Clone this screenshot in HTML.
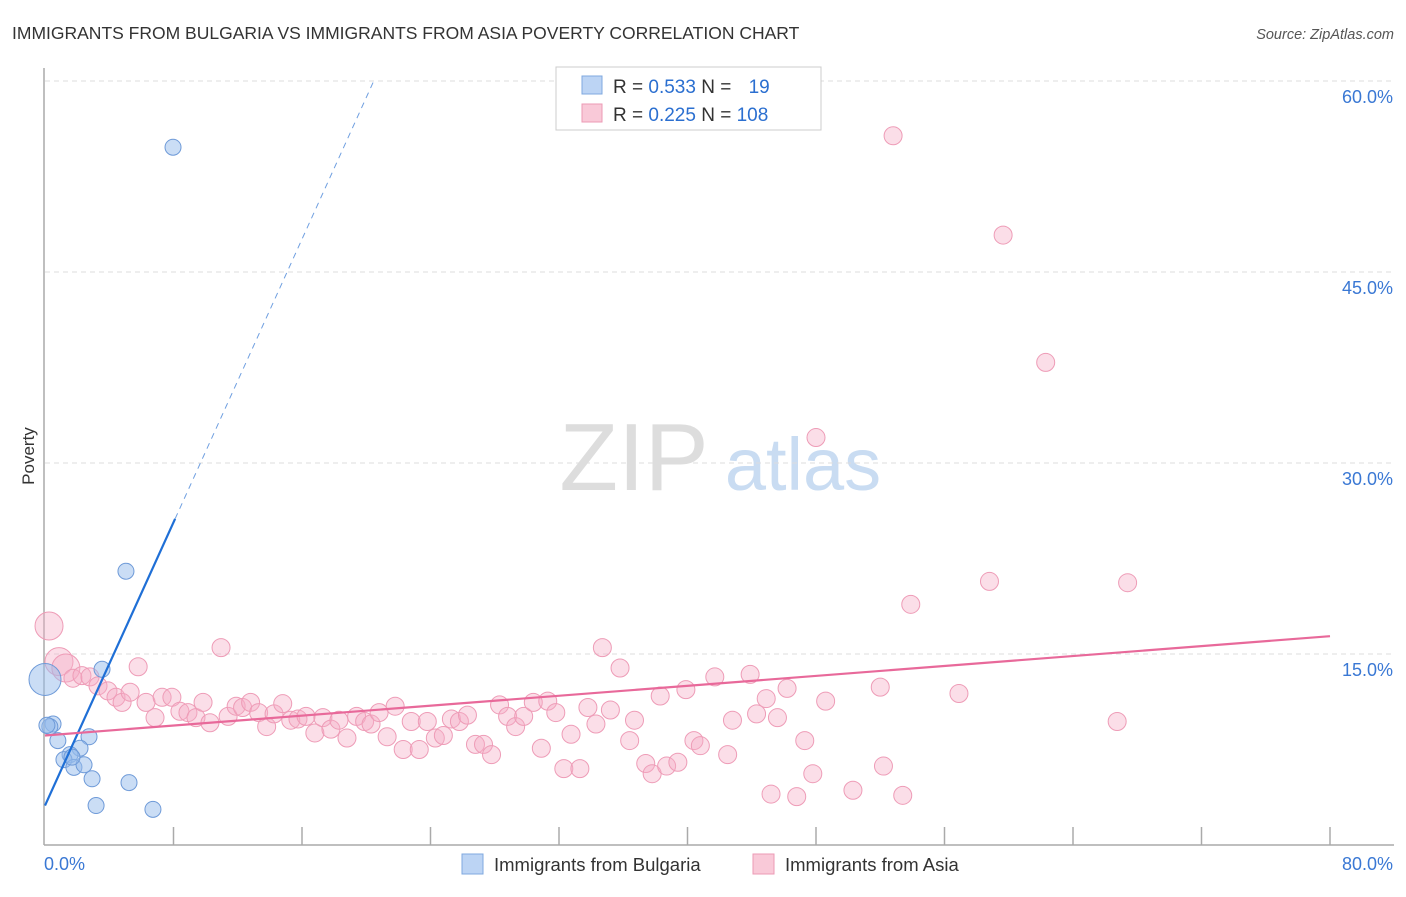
<!DOCTYPE html>
<html><head><meta charset="utf-8"><style>
body{margin:0;background:#fff;font-family:"Liberation Sans",sans-serif;}
svg text{font-family:"Liberation Sans",sans-serif;}
</style></head><body>
<svg id="c" width="1406" height="892">
<text x="12" y="39" font-size="17.5" fill="#333">IMMIGRANTS FROM BULGARIA VS IMMIGRANTS FROM ASIA POVERTY CORRELATION CHART</text>
<text x="1394" y="39" font-size="14.5" fill="#555" font-style="italic" text-anchor="end">Source: ZipAtlas.com</text>
<text x="34" y="456" font-size="17" fill="#333" transform="rotate(-90 34 456)" text-anchor="middle">Poverty</text>
<g>
<text x="634" y="490" font-size="96" fill="#ddd" font-family="Liberation Serif" text-anchor="middle">ZIP</text>
<text x="803" y="490" font-size="74" fill="#c9dcf2" text-anchor="middle">atlas</text></g>
<g id="grid"></g><g id="axes"></g><g id="pts"></g><g id="lines"></g>
<g>
<rect x="556" y="67" width="265" height="63" fill="#fff" stroke="#ccc"/>
<rect x="582" y="76" width="20" height="18" fill="#bcd4f4" stroke="#7fa8df"/>
<rect x="582" y="104" width="20" height="18" fill="#f9c9d8" stroke="#ec9ab5"/>
<text x="613" y="93" font-size="19" fill="#333">R = <tspan fill="#2b6fd0">0.533</tspan>   N = <tspan fill="#2b6fd0" dx="12">19</tspan></text>
<text x="613" y="121" font-size="19" fill="#333">R = <tspan fill="#2b6fd0">0.225</tspan>   N = <tspan fill="#2b6fd0">108</tspan></text>
</g>
<g>
<rect x="462" y="854" width="21" height="20" fill="#bcd4f4" stroke="#7fa8df"/>
<text x="494" y="871" font-size="18.5" fill="#333">Immigrants from Bulgaria</text>
<rect x="753" y="854" width="21" height="20" fill="#f9c9d8" stroke="#ec9ab5"/>
<text x="785" y="871" font-size="18.5" fill="#333">Immigrants from Asia</text>
</g>
</svg>
<script>
const yTicks=[15,30,45,60];
const yTickLabels=["15.0%","30.0%","45.0%","60.0%"];
const xTicks=[0,8,16,24,32,40,48,56,64,72,80];
const xEndLabels=["0.0%","80.0%"];
const bulgariaX=[7.97,5.04,3.55,0.0,0.5,0.3,0.8,2.74,2.18,1.56,1.18,1.8,2.43,2.93,5.23,3.18,6.72,0.12,1.68];
const bulgariaY=[54.8,21.5,13.8,13.0,9.5,9.3,8.2,8.5,7.6,7.1,6.7,6.1,6.3,5.2,4.9,3.1,2.8,9.4,6.9];
const bulgariaBig=[0,0,0,1,0,0,0,0,0,0,0,0,0,0,0,0,0,0,0];
const asiaX=[52.8,59.65,62.3,48.0,58.8,67.4,53.9,0.25,0.87,1.3,1.74,2.3,2.8,3.3,3.92,4.42,4.8,5.3,5.8,6.29,6.85,7.29,7.9,8.4,8.9,9.4,9.84,10.27,10.96,11.4,11.9,12.3,12.8,13.3,13.8,14.26,14.8,15.3,15.75,16.25,16.8,17.3,17.8,18.3,18.8,19.4,19.9,20.3,20.8,21.3,21.8,22.3,22.8,23.3,23.8,24.3,24.8,25.3,25.8,26.3,26.8,27.3,27.8,28.3,28.8,29.3,29.8,30.4,30.9,31.3,31.8,32.3,32.75,33.3,33.8,34.3,34.7,35.2,35.8,36.4,36.7,37.4,37.8,38.3,38.7,39.4,39.9,40.4,40.8,41.7,42.5,42.8,43.9,44.3,44.9,45.2,45.6,46.2,46.8,47.3,47.8,48.6,50.3,52.0,52.2,53.4,56.9,66.75];
const asiaY=[55.7,47.9,37.9,32.0,20.7,20.6,18.9,17.2,14.4,13.9,13.1,13.3,13.2,12.5,12.1,11.6,11.2,12.0,14.0,11.2,10.0,11.6,11.6,10.5,10.4,10.0,11.2,9.6,15.5,10.1,10.9,10.8,11.2,10.4,9.3,10.3,11.1,9.8,9.9,10.1,8.8,10.0,9.1,9.8,8.4,10.1,9.7,9.5,10.4,8.5,10.9,7.5,9.7,7.5,9.7,8.4,8.6,9.9,9.7,10.2,7.9,7.9,7.1,11.0,10.1,9.3,10.1,11.2,7.6,11.3,10.4,6.0,8.7,6.0,10.8,9.5,15.5,10.6,13.9,8.2,9.8,6.4,5.6,11.7,6.2,6.5,12.2,8.2,7.8,13.2,7.1,9.8,13.4,10.3,11.5,4.0,10.0,12.3,3.8,8.2,5.6,11.3,4.3,12.4,6.2,3.9,11.9,9.7];
const asiaBig=[0,0,0,0,0,0,0,1,1,1];
const bulgariaTrend=[3.1,2.78]; // intercept, slope
const bulgariaSolidEnd=8.1;
const asiaTrend=[8.6,0.0975];
const NS="http://www.w3.org/2000/svg";
const X=v=>45+v*(1285/80), Y=v=>845-v*(191/15);
function mk(tag,attrs,parent){const e=document.createElementNS(NS,tag);for(const k in attrs)e.setAttribute(k,attrs[k]);document.getElementById(parent).appendChild(e);return e;}
yTicks.forEach((t,i)=>{
 const g=mk('line',{x1:45,x2:1394,y1:Y(t),y2:Y(t),stroke:'#ddd','stroke-dasharray':'5,4'},'grid');
 
 
 const l=mk('text',{x:1393,y:Y(t)+22,'font-size':18,fill:'#3a78d4','text-anchor':'end'},'grid');l.textContent=yTickLabels[i];
 
 
});
const topG=mk('line',{x1:45,x2:1394,y1:Y(60),y2:Y(60),stroke:'#ddd','stroke-dasharray':'5,4'},'grid');
const ax=mk('line',{x1:44,x2:1394,y1:845,y2:845,stroke:'#aaa','stroke-width':1.5},'axes');


const ay=mk('line',{x1:44,x2:44,y1:68,y2:845,stroke:'#aaa','stroke-width':1.5},'axes');


xTicks.forEach(t=>{if(t===0)return;const tk=mk('line',{x1:X(t),x2:X(t),y1:827,y2:845,stroke:'#aaa','stroke-width':1.5},'axes');
 
 });
[[0,'start',44],[80,'end',1393]].forEach((a,i)=>{const l=mk('text',{x:a[2],y:870,'font-size':18,fill:'#3a78d4','text-anchor':a[1]},'axes');l.textContent=xEndLabels[i];
 
 });
asiaX.forEach((v,i)=>{const c=mk('circle',{cx:X(v),cy:Y(asiaY[i]),r:asiaBig[i]?14:9,fill:'rgba(246,172,197,0.4)',stroke:'#ee9cb7','stroke-width':1},'pts');
 
 });
bulgariaX.forEach((v,i)=>{const c=mk('circle',{cx:X(v),cy:Y(bulgariaY[i]),r:bulgariaBig[i]?16:8,fill:'rgba(150,188,236,0.5)',stroke:'#6e9ad8','stroke-width':1},'pts');
 
 });
const bt=v=>bulgariaTrend[0]+bulgariaTrend[1]*v;
const bEnd=(60-bulgariaTrend[0])/bulgariaTrend[1];
const l1=mk('line',{x1:X(0),y1:Y(bt(0)),x2:X(bulgariaSolidEnd),y2:Y(bt(bulgariaSolidEnd)),stroke:'#1f6fd6','stroke-width':2.2},'lines');


const l2=mk('line',{x1:X(bulgariaSolidEnd),y1:Y(bt(bulgariaSolidEnd)),x2:X(bEnd),y2:Y(60),stroke:'#6f9fe0','stroke-width':1,'stroke-dasharray':'6,5'},'lines');


const at=v=>asiaTrend[0]+asiaTrend[1]*v;
const l3=mk('line',{x1:X(0),y1:Y(at(0)),x2:X(80),y2:Y(at(80)),stroke:'#e8699a','stroke-width':2.2},'lines');


</script>
</body></html>
